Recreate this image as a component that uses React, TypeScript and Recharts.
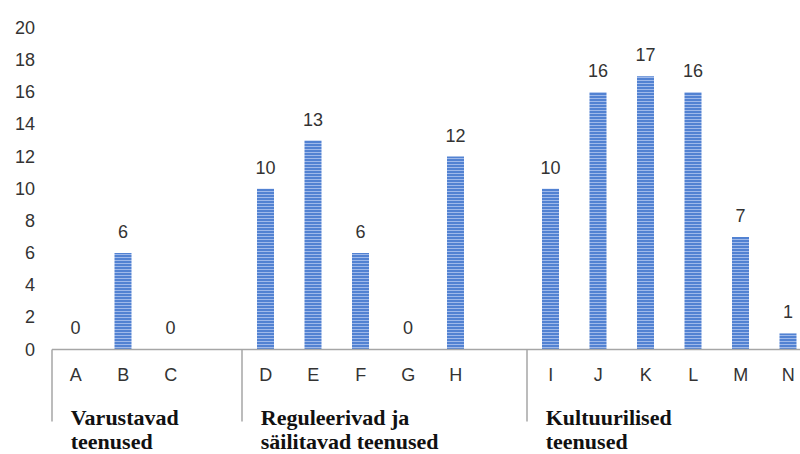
import { BarChart, Bar, XAxis, YAxis, LabelList } from 'recharts';

// Ecosystem service counts per category; null slots are spacers between groups
const categories = ['A', 'B', 'C', '', 'D', 'E', 'F', 'G', 'H', '', 'I', 'J', 'K', 'L', 'M', 'N'];
const counts = [0, 6, 0, null, 10, 13, 6, 0, 12, null, 10, 16, 17, 16, 7, 1];
const yTicks = [0, 2, 4, 6, 8, 10, 12, 14, 16, 18, 20];

const groups = [
  { first: 'A', lines: ['Varustavad', 'teenused'] },
  { first: 'D', lines: ['Reguleerivad ja', 'säilitavad teenused'] },
  { first: 'I', lines: ['Kultuurilised', 'teenused'] },
];

const WIDTH = 812;
const HEIGHT = 454;
const Y_AXIS_W = 52;
const X_AXIS_H = 104.5;
const BAND = (WIDTH - Y_AXIS_W) / categories.length;
const AXIS_Y = HEIGHT - X_AXIS_H;

const SANS = '"Liberation Sans", Arial, sans-serif';
const SERIF = '"Liberation Serif", "Times New Roman", serif';

const data = categories.map((name, i) => ({ key: `${name || 'gap'}-${i}`, name, value: counts[i] }));

function YTick({ y, payload }: any) {
  return (
    <text x={35} y={y + 6} textAnchor="end" fontFamily={SANS} fontSize={18} fill="#333">
      {payload.value}
    </text>
  );
}

function XTick({ x, payload }: any) {
  const name = categories[payload.index];
  const group = groups.find((g) => g.first === name);
  return (
    <g>
      {name && (
        <text x={x} y={AXIS_Y + 31} textAnchor="middle" fontFamily={SANS} fontSize={18} fill="#333">
          {name}
        </text>
      )}
      {group && (
        <>
          <line
            x1={x - BAND / 2}
            x2={x - BAND / 2}
            y1={AXIS_Y}
            y2={AXIS_Y + 72}
            stroke="#a6a6a6"
            strokeWidth={1.5}
          />
          {group.lines.map((line, i) => (
            <text
              key={line}
              x={x - 5}
              y={AXIS_Y + 75 + i * 24}
              fontFamily={SERIF}
              fontWeight="bold"
              fontSize={22}
              fill="#111"
            >
              {line}
            </text>
          ))}
        </>
      )}
    </g>
  );
}

// zero-valued bars still need a (hairline) rect so their "0" label gets drawn
const zeroMinSize = (value: any) => (value === 0 ? 0.01 : 0);

export default function App() {
  return (
    <div style={{ position: 'fixed', left: 0, top: 0, width: 800, height: 454, overflow: 'hidden', background: '#fff' }}>
      <BarChart width={WIDTH} height={HEIGHT} data={data} margin={{ top: 28, right: 0, bottom: 0, left: 0 }} barCategoryGap={0}>
        <defs>
          <pattern id="stripes" width={4} height={3} patternUnits="userSpaceOnUse">
            <rect width={4} height={3} fill="#5282d2" />
            <rect y={2} width={4} height={1} fill="#9fb9ea" />
          </pattern>
        </defs>
        <XAxis
          dataKey="key"
          interval={0}
          height={X_AXIS_H}
          tickLine={false}
          axisLine={{ stroke: '#a6a6a6', strokeWidth: 1.5 }}
          tick={<XTick />}
        />
        <YAxis
          domain={[0, 20]}
          ticks={yTicks}
          width={Y_AXIS_W}
          axisLine={false}
          tickLine={false}
          tick={<YTick />}
        />
        <Bar
          dataKey="value"
          barSize={17}
          fill="url(#stripes)"
          minPointSize={zeroMinSize}
          isAnimationActive={false}
        >
          <LabelList
            dataKey="value"
            position="top"
            offset={15}
            fontFamily={SANS}
            fontSize={18}
            fill="#333"
            formatter={(v: any) => (v == null ? '' : String(v))}
          />
        </Bar>
      </BarChart>
    </div>
  );
}
